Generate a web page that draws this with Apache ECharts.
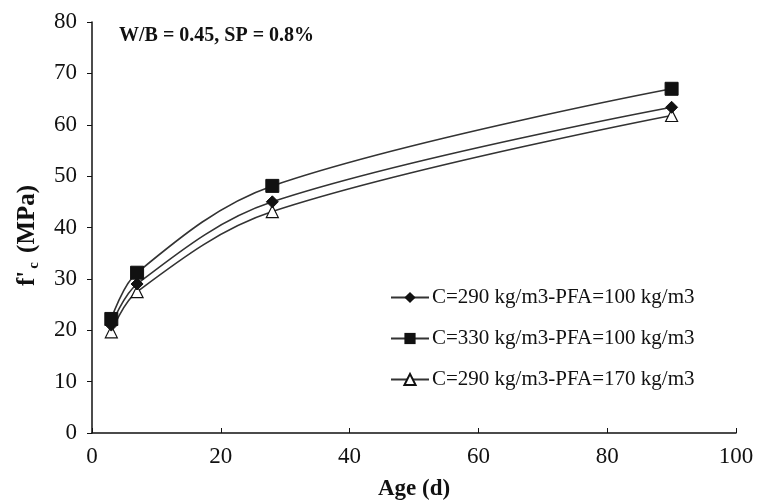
<!DOCTYPE html>
<html>
<head>
<meta charset="utf-8">
<script src="https://cdn.jsdelivr.net/npm/echarts@6/dist/echarts.min.js"></script>
<style>
  html, body { margin: 0; padding: 0; background: #fff; }
  #chart { width: 759px; height: 502px; }
</style>
</head>
<body>
<div id="chart"></div>
<script>
// Compressive strength development with age
const ages = [3, 7, 28, 90];
const seriesNames = [
  'C=290 kg/m3-PFA=100 kg/m3',
  'C=330 kg/m3-PFA=100 kg/m3',
  'C=290 kg/m3-PFA=170 kg/m3'
];
const fcC290P100 = [21.0, 29.0, 45.0, 63.4];
const fcC330P100 = [22.2, 31.2, 48.1, 67.0];
const fcC290P170 = [19.7, 27.5, 43.1, 61.8];
const xTicks = [0, 20, 40, 60, 80, 100];
const yTicks = [0, 10, 20, 30, 40, 50, 60, 70, 80];

const serif = '"Liberation Serif", "Times New Roman", serif';
const ink = '#111';
const toPairs = vals => ages.map((a, i) => [a, vals[i]]);

const lineStyle = { color: '#333', width: 1.6 };

const chart = echarts.init(document.getElementById('chart'), null, { renderer: 'canvas' });
chart.setOption({
  animation: false,
  backgroundColor: '#fff',
  grid: { left: 92, right: 23, top: 22, bottom: 69, containLabel: false, outerBoundsMode: 'none' },
  title: {
    text: 'W/B = 0.45, SP = 0.8%',
    left: 114, top: 21,
    textStyle: { fontFamily: serif, fontWeight: 'bold', fontSize: 20, color: ink }
  },
  legend: {
    orient: 'vertical',
    left: 385, top: 282,
    itemWidth: 38, itemHeight: 14, itemGap: 20,
    textStyle: { fontFamily: serif, fontSize: 21, color: ink, padding: [0, 0, 0, -2] },
    data: seriesNames
  },
  xAxis: {
    type: 'value',
    min: xTicks[0], max: xTicks[xTicks.length - 1], interval: 20,
    name: 'Age (d)', nameLocation: 'middle', nameGap: 45,
    nameTextStyle: { fontFamily: serif, fontWeight: 'bold', fontSize: 23, color: ink },
    axisLine: { lineStyle: { color: ink, width: 1.5 } },
    axisTick: { show: true, inside: true, length: 5, lineStyle: { color: ink } },
    axisLabel: { fontFamily: serif, fontSize: 23, color: ink, margin: 12 },
    splitLine: { show: false }
  },
  yAxis: {
    type: 'value',
    min: yTicks[0], max: yTicks[yTicks.length - 1], interval: 10,
    name: '{m|f\'}{s|c}{m| (MPa)}', nameLocation: 'middle', nameGap: 50, nameRotate: 90,
    nameTextStyle: {
      fontFamily: serif, fontWeight: 'bold', color: ink,
      padding: [0, 16, 0, 0],
      rich: {
        m: { fontFamily: serif, fontWeight: 'bold', fontSize: 25, color: ink },
        s: { fontFamily: serif, fontWeight: 'bold', fontSize: 15, color: ink, padding: [14, 3, 0, 2] }
      }
    },
    axisLine: { show: true, lineStyle: { color: ink, width: 1.5 } },
    axisTick: { show: true, length: 5, lineStyle: { color: ink } },
    axisLabel: { fontFamily: serif, fontSize: 23, color: ink, margin: 15 },
    splitLine: { show: false }
  },
  series: [
    {
      name: seriesNames[0], type: 'line', smooth: 0.35,
      data: toPairs(fcC290P100),
      symbol: 'diamond', symbolSize: 12,
      itemStyle: { color: ink, borderColor: ink },
      lineStyle: lineStyle, z: 3
    },
    {
      name: seriesNames[1], type: 'line', smooth: 0.35,
      data: toPairs(fcC330P100),
      symbol: 'rect', symbolSize: 13,
      itemStyle: { color: ink, borderColor: ink },
      lineStyle: lineStyle, z: 4
    },
    {
      name: seriesNames[2], type: 'line', smooth: 0.35,
      data: toPairs(fcC290P170),
      symbol: 'triangle', symbolSize: 12,
      itemStyle: { color: '#fff', borderColor: ink, borderWidth: 1.2 },
      lineStyle: lineStyle, z: 2
    }
  ]
});
</script>
</body>
</html>
